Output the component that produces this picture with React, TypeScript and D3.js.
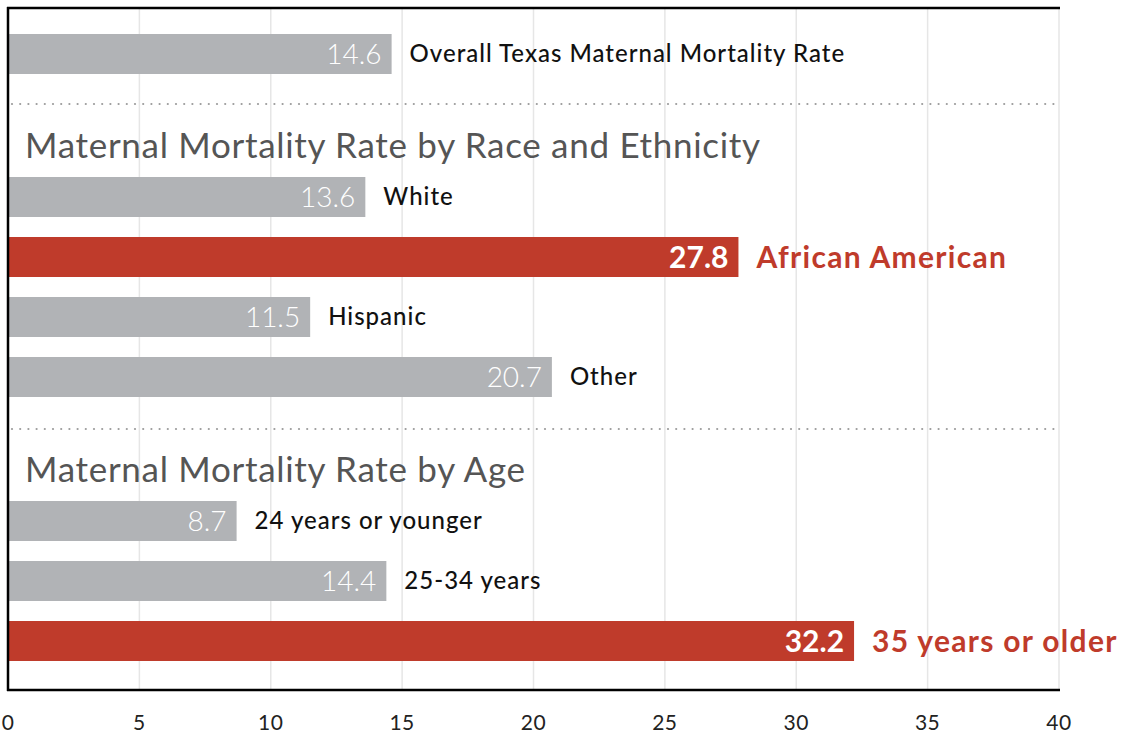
import React from "react";
import * as d3 from "d3";

const overallLabels = ["Overall Texas Maternal Mortality Rate"];
const overallValues = [14.6];
const raceTitle = "Maternal Mortality Rate by Race and Ethnicity";
const raceLabels = ["White", "African American", "Hispanic", "Other"];
const raceValues = [13.6, 27.8, 11.5, 20.7];
const ageTitle = "Maternal Mortality Rate by Age";
const ageLabels = ["24 years or younger", "25-34 years", "35 years or older"];
const ageValues = [8.7, 14.4, 32.2];
const highlighted = ["African American", "35 years or older"];
const xTicks = [0, 5, 10, 15, 20, 25, 30, 35, 40];

const W = 1125;
const H = 734;
const FONT = "Lato, 'Open Sans', sans-serif";
const GREY = "#b1b3b6";
const RED = "#bf3b2b";

export default function App() {
  const x = d3.scaleLinear().domain([0, 40]).range([8, 1059]);
  const top = 8;
  const bottom = 690;
  const barH = 40;

  const sections = [
    { title: null as string | null, labels: overallLabels, values: overallValues, start: 54, dotY: null as number | null },
    { title: raceTitle, labels: raceLabels, values: raceValues, start: 197, dotY: 104 },
    { title: ageTitle, labels: ageLabels, values: ageValues, start: 521, dotY: 429 },
  ];

  const dots = d3.range(x(0) + 4, x(40) + 1, 8.2);

  return (
    <svg width={W} height={H} style={{ position: "absolute", left: 0, top: 0 }} fontFamily={FONT}>
      <rect width={W} height={H} fill="#fff" />
      {xTicks.map((t) => (
        <line key={"g" + t} x1={x(t)} x2={x(t)} y1={top} y2={bottom} stroke="#e6e6e6" strokeWidth={1.5} />
      ))}
      {sections.map((s, si) => {
        const y = d3
          .scaleLinear()
          .domain([0, 1])
          .range([s.start, s.start + 60]);
        return (
          <g key={si}>
            {s.dotY !== null &&
              dots.map((dx, i) => <circle key={i} cx={dx} cy={s.dotY as number} r={1.1} fill="#9a9a9a" />)}
            {s.title && (
              <text x={25} y={s.start - 39} fontSize={35} fill="#555" fontWeight={400} letterSpacing={0.7}>
                {s.title}
              </text>
            )}
            {s.values.map((v, i) => {
              const cy = y(i);
              const hl = highlighted.includes(s.labels[i]);
              return (
                <g key={i}>
                  <rect x={x(0)} y={cy - barH / 2} width={x(v) - x(0)} height={barH} fill={hl ? RED : GREY} />
                  <text
                    x={x(v) - 10}
                    y={cy}
                    dy="0.35em"
                    textAnchor="end"
                    fill="#fff"
                    fontSize={hl ? 30 : 28}
                    fontWeight={hl ? 700 : 300}
                  >
                    {v.toFixed(1)}
                  </text>
                  <text
                    x={x(v) + 18}
                    y={cy}
                    dy={hl ? "0.35em" : "0.32em"}
                    fill={hl ? RED : "#111"}
                    fontSize={hl ? 30 : 24}
                    fontWeight={hl ? 700 : 500}
                    letterSpacing={hl ? 1.3 : 1.0}
                  >
                    {s.labels[i]}
                  </text>
                </g>
              );
            })}
          </g>
        );
      })}
      <line x1={x(0) - 1} x2={x(40) + 1} y1={top} y2={top} stroke="#000" strokeWidth={2.5} />
      <line x1={x(0) - 1} x2={x(40) + 1} y1={bottom} y2={bottom} stroke="#000" strokeWidth={2.5} />
      <line x1={x(0)} x2={x(0)} y1={top - 1} y2={bottom + 1} stroke="#000" strokeWidth={2.5} />
      {xTicks.map((t) => (
        <text key={"t" + t} x={x(t)} y={722} dy="0.36em" textAnchor="middle" fontSize={21} fill="#222" letterSpacing={0.5}>
          {t}
        </text>
      ))}
    </svg>
  );
}
